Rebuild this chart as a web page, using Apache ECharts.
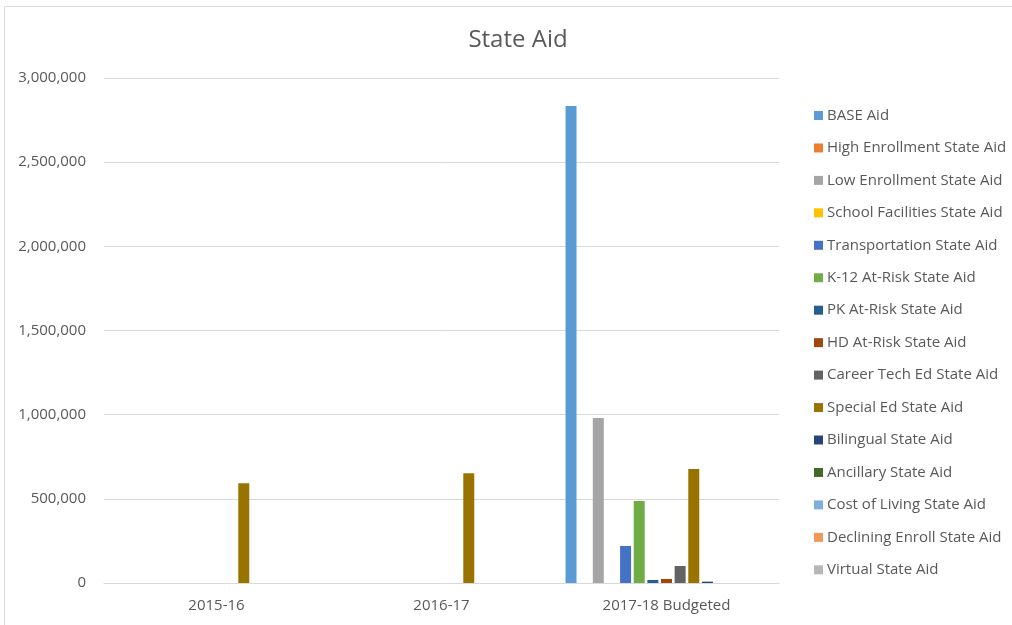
<!DOCTYPE html>
<html>
<head>
<meta charset="utf-8">
<script src="https://cdn.jsdelivr.net/npm/echarts@6/dist/echarts.min.js"></script>
<style>
html,body{margin:0;padding:0;background:#fff;}
#main{width:1012px;height:625px;}
</style>
</head>
<body>
<div id="main"></div>
<script>
var categories = ['2015-16', '2016-17', '2017-18 Budgeted'];
var seriesNames = ['BASE Aid','High Enrollment State Aid','Low Enrollment State Aid','School Facilities State Aid','Transportation State Aid','K-12 At-Risk State Aid','PK At-Risk State Aid','HD At-Risk State Aid','Career Tech Ed State Aid','Special Ed State Aid','Bilingual State Aid','Ancillary State Aid','Cost of Living State Aid','Declining Enroll State Aid','Virtual State Aid'];
var colors = ['#5B9BD5','#ED7D31','#A5A5A5','#FFC000','#4472C4','#70AD47','#255E91','#9E480E','#636363','#997300','#264478','#43682B','#7CAFDD','#F1975A','#B7B7B7'];

var baseAid = [0, 0, 2834000];
var highEnroll = [0, 0, 0];
var lowEnroll = [0, 0, 980000];
var schoolFacilities = [0, 0, 0];
var transportation = [0, 0, 220000];
var k12AtRisk = [0, 0, 487000];
var pkAtRisk = [0, 0, 18000];
var hdAtRisk = [0, 0, 24000];
var careerTech = [0, 0, 101000];
var specialEd = [592000, 652000, 677000];
var bilingual = [0, 0, 8000];
var ancillary = [0, 0, 0];
var costOfLiving = [0, 0, 0];
var decliningEnroll = [0, 0, 0];
var virtualAid = [0, 0, 0];

var seriesValues = [baseAid, highEnroll, lowEnroll, schoolFacilities, transportation, k12AtRisk, pkAtRisk, hdAtRisk, careerTech, specialEd, bilingual, ancillary, costOfLiving, decliningEnroll, virtualAid];

var FONT = 'Open Sans';
var TXT = '#595959';

var chart = echarts.init(document.getElementById('main'), null, {renderer: 'canvas'});
var option = {
  animation: false,
  color: colors,
  title: {
    text: 'State Aid',
    left: 513, top: 23, textAlign: 'center',
    textStyle: {fontFamily: FONT, fontSize: 24, fontWeight: 'normal', color: TXT}
  },
  legend: {
    orient: 'vertical',
    left: 809, top: 103,
    itemWidth: 9, itemHeight: 9,
    itemGap: 17.45,
    icon: 'rect',
    textStyle: {fontFamily: FONT, fontSize: 15, color: TXT, lineHeight: 15, padding: [0,0,0,-1]},
    data: seriesNames
  },
  grid: {left: 104, right: 233, top: 78, bottom: 42, containLabel: false},
  xAxis: {
    type: 'category',
    data: categories,
    axisLine: {show: true, lineStyle: {color: '#D9D9D9', width: 1}},
    axisTick: {show: false},
    axisLabel: {fontFamily: FONT, fontSize: 15, color: TXT, margin: 15}
  },
  yAxis: {
    type: 'value',
    min: 0, max: 3000000, interval: 500000,
    axisLine: {show: false},
    axisTick: {show: false},
    splitLine: {lineStyle: {color: '#D9D9D9', width: 1}},
    axisLabel: {fontFamily: FONT, fontSize: 15, color: TXT, margin: 18,
      formatter: function(v){ return v.toLocaleString('en-US'); }}
  },
  graphic: [
    {type: 'line', shape: {x1: 4.5, y1: 6.5, x2: 1012, y2: 6.5}, style: {stroke: '#D9D9D9', lineWidth: 1}},
    {type: 'line', shape: {x1: 4.5, y1: 6.5, x2: 4.5, y2: 625}, style: {stroke: '#D9D9D9', lineWidth: 1}}
  ],
  series: seriesNames.map(function(n, i){
    return {name: n, type: 'bar', data: seriesValues[i], barWidth: 11, barGap: '24%',
      itemStyle: {color: colors[i]}};
  })
};
chart.setOption(option);
</script>
</body>
</html>
